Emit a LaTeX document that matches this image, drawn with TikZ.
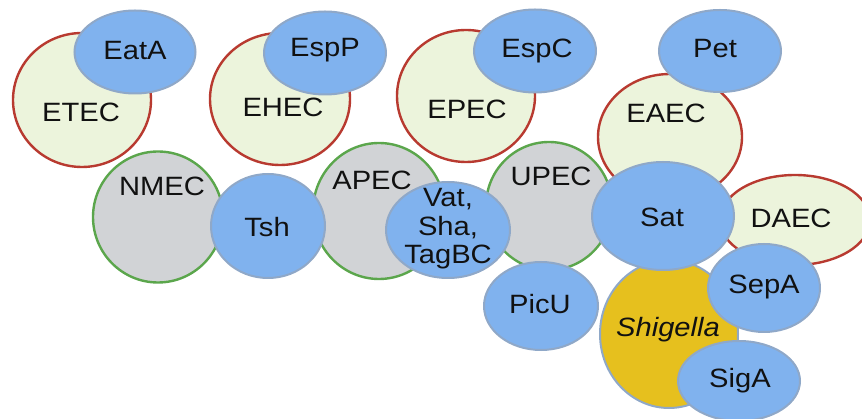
\documentclass[tikz,border=0pt]{standalone}
\usepackage{fontspec}
\setmainfont{Liberation Sans}[FakeStretch=1.1]
\usetikzlibrary{shapes.geometric}
\definecolor{pfill}{HTML}{ECF4DC}
\definecolor{pline}{HTML}{B83A30}
\definecolor{gfill}{HTML}{D1D3D6}
\definecolor{gline}{HTML}{5BA64C}
\definecolor{bfill}{HTML}{80B2EE}
\definecolor{bline}{HTML}{8FA8C8}
\definecolor{gold}{HTML}{E6C01E}
\definecolor{ink}{HTML}{111111}
\tikzset{
  blob/.style n args={2}{ellipse, inner sep=0pt, minimum width=#1pt, minimum height=#2pt},
  patho/.style={fill=pfill, draw=pline, line width=2.4pt},
  extra/.style={fill=gfill, draw=gline, line width=2.4pt},
  prot/.style={fill=bfill, draw=bline, line width=2pt},
  shig/.style={fill=gold, draw=bline, line width=2pt},
  lbl/.style={font=\fontsize{26.5}{28.5}\selectfont, text=ink, inner sep=0pt, align=center}
}
\begin{document}
\begin{tikzpicture}[x=1pt,y=-1pt]
\useasboundingbox (0,0) rectangle (862,419);
% pathotype circles
\node[patho, blob={138}{134}] (etec) at (82,100) {};
\node[patho, blob={140}{132}] (ehec) at (280,99) {};
\node[patho, blob={138}{132}] (epec) at (466,96) {};
\node[patho, blob={144}{126}] (eaec) at (670,137) {};
\node[patho, blob={150}{90}] (daec) at (795,220) {};
\node[extra, blob={130}{131}] (nmec) at (158,217) {};
\node[extra, blob={132}{136}] (apec) at (379,211) {};
\node[extra, blob={126}{128}] (upec) at (549,206) {};
\node[shig, blob={138}{148}] (shig) at (669,334) {};
% protein ellipses
\node[prot, blob={121}{83}] (eata) at (135,52) {};
\node[prot, blob={122}{83}] (espp) at (325,53) {};
\node[prot, blob={122}{83}] (espc) at (535,51) {};
\node[prot, blob={122}{82}] (pet) at (720,51) {};
\node[prot, blob={114}{104}] (tsh) at (268,226) {};
\node[prot, blob={124}{96}] (vat) at (448,230) {};
\node[prot, blob={114}{88}] (picu) at (541,306) {};
\node[prot, blob={142}{108}] (sat) at (663,216) {};
\node[prot, blob={112}{88}] (sepa) at (764,288) {};
\node[prot, blob={122}{80}] (siga) at (739,381) {};
% labels
\node[lbl] (etecT) at (81,112) {ETEC};
\node[lbl] (ehecT) at (283,107) {EHEC};
\node[lbl] (epecT) at (467,109) {EPEC};
\node[lbl] (eaecT) at (666,113) {EAEC};
\node[lbl] (daecT) at (791,218) {DAEC};
\node[lbl] (nmecT) at (162,186) {NMEC};
\node[lbl] (apecT) at (372,180) {APEC};
\node[lbl] (upecT) at (551,176) {UPEC};
\node[lbl] (shigT) at (668,330) {\itshape Shigella};
\node[lbl] (eataT) at (135,51) {EatA};
\node[lbl] (esppT) at (325,50) {EspP};
\node[lbl] (espcT) at (537,51) {EspC};
\node[lbl] (petT) at (715,49) {Pet};
\node[lbl] (tshT) at (267,227) {Tsh};
\node[lbl] (vatT) at (448,229) {Vat,\\Sha,\\TagBC};
\node[lbl] (picuT) at (540,304) {PicU};
\node[lbl] (satT) at (662,217) {Sat};
\node[lbl] (sepaT) at (764,287) {SepA};
\node[lbl] (sigaT) at (740,381) {SigA};
\end{tikzpicture}
\end{document}
